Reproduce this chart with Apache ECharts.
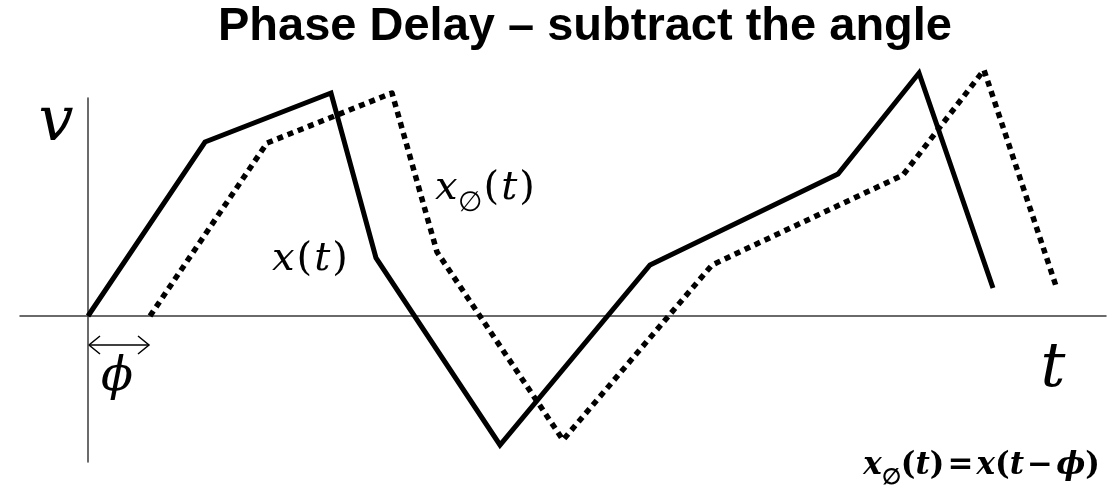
<!DOCTYPE html>
<html>
<head>
<meta charset="utf-8">
<script src="https://cdn.jsdelivr.net/npm/echarts@6/dist/echarts.min.js"></script>
<style>
  html, body { margin: 0; padding: 0; background: #fff; }
  #chart { width: 1117px; height: 489px; }
</style>
</head>
<body>
<div id="chart"></div>
<script>
// x(t): corners of the solid wave
const solidT = [0, 11.7, 24.3, 28.8, 41.2, 56.2, 75.0, 83.1, 90.5];
const solidV = [0, 17.4, 22.3, 5.8, -12.9, 5.1, 14.2, 24.3, 2.8];
// x_phi(t): the dotted, delayed copy
const delayT = [6.2, 17.9, 30.4, 34.9, 47.5, 62.4, 81.5, 89.6, 96.9];
const delayV = [0, 17.3, 22.3, 6.4, -12.4, 5.1, 14.1, 24.6, 2.7];
// delay marker
const phi = 6.2;
const arrowV = -2.9;
// axis extents
const tMin = -6.8, tMax = 101.8;
const vMin = -14.6, vMax = 21.8;

const serif = '"DejaVu Serif", "Liberation Serif", serif';

function pairs(xs, ys) {
  return xs.map((x, i) => [x, ys[i]]);
}

// i = italic letter, r = upright symbol, s = subscript
function mathRich(size, subSize, subDrop, bold, gap) {
  const w = bold ? 'bold' : 'normal';
  return {
    i: { fontFamily: serif, fontStyle: 'italic', fontWeight: w, fontSize: size, color: '#000' },
    r: { fontFamily: serif, fontWeight: w, fontSize: size, color: '#000', padding: [0, gap, 0, gap] },
    s: { fontFamily: serif, fontWeight: w, fontSize: subSize, color: '#000', padding: [subDrop, 0, 0, 0] }
  };
}

const chart = echarts.init(document.getElementById('chart'));

chart.setOption({
  animation: false,
  grid: { left: 20, right: 11, top: 98, bottom: 27 },
  xAxis: {
    type: 'value',
    min: tMin,
    max: tMax,
    axisLine: { show: true, onZero: true, lineStyle: { color: '#3a3a3a', width: 1.5 } },
    axisTick: { show: false },
    axisLabel: { show: false },
    splitLine: { show: false }
  },
  yAxis: {
    type: 'value',
    min: vMin,
    max: vMax,
    axisLine: { show: true, onZero: true, lineStyle: { color: '#3a3a3a', width: 1.5 } },
    axisTick: { show: false },
    axisLabel: { show: false },
    splitLine: { show: false }
  },
  series: [
    {
      name: 'x(t)',
      type: 'line',
      data: pairs(solidT, solidV),
      showSymbol: false,
      clip: false,
      lineStyle: { color: '#000', width: 5, join: 'miter', cap: 'butt' }
    },
    {
      name: 'x_phi(t)',
      type: 'line',
      data: pairs(delayT, delayV),
      showSymbol: false,
      clip: false,
      lineStyle: { color: '#000', width: 5.5, type: [6, 5], cap: 'butt', join: 'round' }
    }
  ]
});

// double arrow for phi, placed through the axes
const a0 = chart.convertToPixel({ gridIndex: 0 }, [0, arrowV]);
const a1 = chart.convertToPixel({ gridIndex: 0 }, [phi, arrowV]);
const head = 12, spread = 9;

chart.setOption({
  graphic: [
    {
      type: 'text', x: 585, y: 27,
      style: {
        text: 'Phase Delay – subtract the angle',
        font: 'bold 47px "Liberation Sans", Arial, sans-serif',
        fill: '#000', align: 'center', verticalAlign: 'middle'
      }
    },
    { type: 'line', shape: { x1: a0[0] + 1, y1: a0[1], x2: a1[0] - 1, y2: a1[1] }, style: { stroke: '#000', lineWidth: 1.5 } },
    { type: 'polyline', shape: { points: [[a0[0] + head, a0[1] - spread], [a0[0] + 1, a0[1]], [a0[0] + head, a0[1] + spread]] }, style: { stroke: '#000', lineWidth: 1.5, fill: null } },
    { type: 'polyline', shape: { points: [[a1[0] - head, a1[1] - spread], [a1[0] - 1, a1[1]], [a1[0] - head, a1[1] + spread]] }, style: { stroke: '#000', lineWidth: 1.5, fill: null } },
    {
      type: 'text', x: 56, y: 124,
      style: { text: 'v', font: 'italic 62px ' + serif, fill: '#000', align: 'center', verticalAlign: 'middle' }
    },
    {
      type: 'text', x: 1053, y: 370,
      style: { text: 't', font: 'italic 62px ' + serif, fill: '#000', align: 'center', verticalAlign: 'middle' }
    },
    {
      type: 'text', x: 117, y: 378,
      style: { text: 'ϕ', font: 'italic 47px ' + serif, fill: '#000', align: 'center', verticalAlign: 'middle' }
    },
    {
      type: 'text', x: 272, y: 260,
      style: {
        text: '{i|x}{r|(}{i|t}{r|)}',
        rich: mathRich(40, 28, 30, false, 2),
        align: 'left', verticalAlign: 'middle'
      }
    },
    {
      type: 'text', x: 435, y: 189,
      style: {
        text: '{i|x}{s|∅}{r|(}{i|t}{r|)}',
        rich: mathRich(40, 28, 30, false, 2),
        align: 'left', verticalAlign: 'middle'
      }
    },
    {
      type: 'text', x: 1100, y: 466,
      style: {
        text: '{i|x}{s|∅}{r|(}{i|t}{r|)\u200a=\u200a}{i|x}{r|(}{i|t}{r|\u200a−\u200a}{i|ϕ}{r|)}',
        rich: mathRich(31, 22, 24, true, 0),
        align: 'right', verticalAlign: 'middle'
      }
    }
  ]
});
</script>
</body>
</html>
